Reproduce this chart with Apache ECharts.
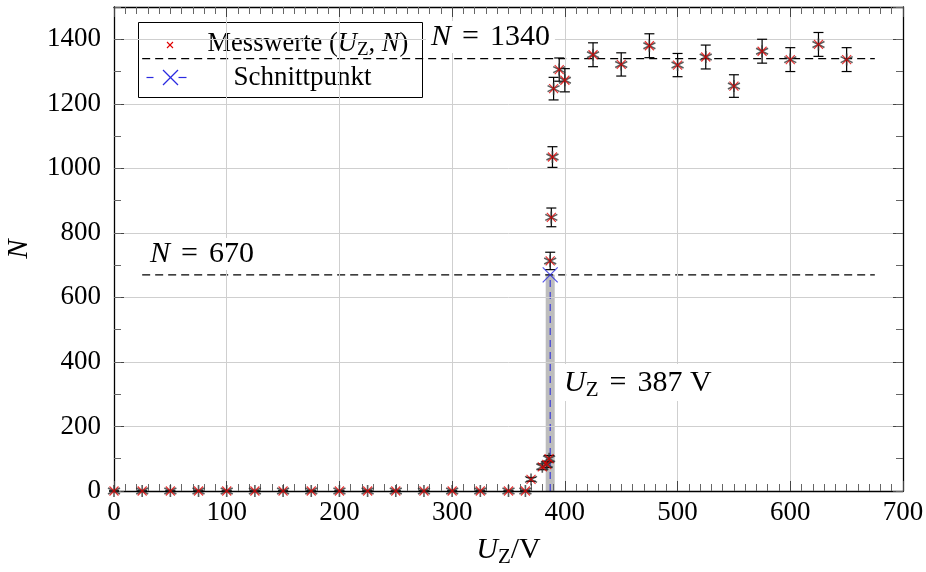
<!DOCTYPE html>
<html>
<head>
<meta charset="utf-8">
<script src="https://cdn.jsdelivr.net/npm/echarts@6/dist/echarts.min.js"></script>
<style>
html,body{margin:0;padding:0;background:#fff;}
#c{width:926px;height:572px;}
</style>
</head>
<body>
<div id="c"></div>
<script>
// ---- data ----
const uValues = [0,25,50,75,100,125,150,175,200,225,250,275,300,325,350,365,370,380,384,386,387,388,389,390,395,400,425,450,475,500,525,550,575,600,625,650];
const nValues = [0,0,0,0,0,0,0,0,0,0,0,0,0,0,0,0,36,75,82,100,713,848,1035,1247,1306,1273,1352,1322,1380,1320,1345,1255,1363,1337,1384,1337];
const nErrors = [0,0,0,0,0,0,0,0,0,0,0,0,0,0,0,0,6,9,9,10,27,29,32,35,36,36,37,36,37,36,37,35,37,37,37,37];
const xTicks = [0,100,200,300,400,500,600,700];
const yTicks = [0,200,400,600,800,1000,1200,1400];
const halfLevel = 670;       // N = 670
const fullLevel = 1340;      // N = 1340
const levelLineX = [25, 675];
const crossU = 387;          // Schnittpunkt U_Z
const bandU = [383, 391];    // uncertainty band

const FF = 'Liberation Serif, DejaVu Serif, serif';
const chart = echarts.init(document.getElementById('c'), null, {renderer: 'canvas'});

const measured = uValues.map((u, i) => [u, nValues[i]]);
const errData = uValues.map((u, i) => [u, nValues[i], nErrors[i]]);

const xMin = xTicks[0], xMax = xTicks[xTicks.length - 1], xInt = xTicks[1] - xTicks[0];
const yInt = yTicks[1] - yTicks[0];
const plain = v => String(v);

function xAxisDef(pos, showLabels) {
  return {
    type: 'value', position: pos, min: xMin, max: xMax, interval: xInt,
    axisLine: {show: true, onZero: false, lineStyle: {color: '#000', width: 1.3}},
    axisTick: {show: true, inside: true, length: 10, lineStyle: {color: '#444', width: 1}},
    minorTick: {show: true, splitNumber: 10, length: 7, lineStyle: {color: '#666', width: 1}},
    splitLine: {show: showLabels, lineStyle: {color: '#cfcfcf', width: 1}},
    axisLabel: {show: showLabels, formatter: plain, color: '#000', fontFamily: FF, fontSize: 27, margin: 8},
    z: 5
  };
}
function yAxisDef(pos, interval, tickLen, showLabels, showLine) {
  return {
    type: 'value', position: pos, min: 0, max: 1500, interval: interval,
    axisLine: {show: showLine, onZero: false, lineStyle: {color: '#000', width: 1.3}},
    axisTick: {show: true, inside: true, length: tickLen, lineStyle: {color: tickLen > 8 ? '#444' : '#666', width: 1}},
    splitLine: {show: showLabels, lineStyle: {color: '#cfcfcf', width: 1}},
    axisLabel: {show: showLabels, formatter: plain, showMaxLabel: false, color: '#000', fontFamily: FF, fontSize: 27, margin: 13},
    z: 5
  };
}

const xA0 = xAxisDef('bottom', true);
xA0.name = '{i|U}{s|Z}{r|/V}';
xA0.nameLocation = 'middle';
xA0.nameGap = 42;
xA0.nameTextStyle = {rich: {
  i: {fontFamily: FF, fontStyle: 'italic', fontSize: 30, color: '#000'},
  s: {fontFamily: FF, fontSize: 21, color: '#000', padding: [14, 0, 0, 0]},
  r: {fontFamily: FF, fontSize: 30, color: '#000'}
}};
const xA1 = xAxisDef('top', false);

const yA0 = yAxisDef('left', yInt, 10, true, true);
yA0.name = 'N';
yA0.nameLocation = 'middle';
yA0.nameGap = 80;
yA0.nameTextStyle = {fontFamily: FF, fontStyle: 'italic', fontSize: 29, color: '#000'};
const yA1 = yAxisDef('left', yInt / 2, 7, false, false);
const yA2 = yAxisDef('right', yInt, 10, false, true);
const yA3 = yAxisDef('right', yInt / 2, 7, false, false);

const crossPath = 'path://M0,0L10,10M10,0L0,10';
const starPath = 'path://M5,0L5,10M0.67,2.5L9.33,7.5M0.67,7.5L9.33,2.5';

const mathRich = {
  i: {fontFamily: FF, fontStyle: 'italic', fontSize: 30, fill: '#000'},
  r: {fontFamily: FF, fontSize: 30, fill: '#000'},
  e: {fontFamily: FF, fontSize: 30, fill: '#000', padding: [0, 11, 0, 11]},
  s: {fontFamily: FF, fontSize: 21, fill: '#000', padding: [14, 0, 0, 0]}
};

const option = {
  animation: false,
  backgroundColor: '#fff',
  grid: {left: 114, right: 23, top: 7, bottom: 81, containLabel: false, outerBoundsMode: 'none'},
  xAxis: [xA0, xA1],
  yAxis: [yA0, yA1, yA2, yA3],
  series: [
    { // grey band
      type: 'custom', xAxisIndex: 0, yAxisIndex: 0, z: 2,
      data: [[bandU[0], bandU[1], 0, halfLevel]],
      encode: {x: [0, 1], y: [2, 3]},
      renderItem: function (params, api) {
        const p0 = api.coord([api.value(0), api.value(3)]);
        const p1 = api.coord([api.value(1), api.value(2)]);
        return {type: 'rect', shape: {x: p0[0], y: p0[1], width: p1[0] - p0[0], height: p1[1] - p0[1]},
          style: {fill: '#bdbdbd'}};
      }
    },
    { // N = 670 line
      type: 'line', xAxisIndex: 0, yAxisIndex: 0, z: 3, symbol: 'none', silent: true,
      data: [[levelLineX[0], halfLevel], [levelLineX[1], halfLevel]],
      lineStyle: {color: '#000', width: 1.2, type: [8, 5]}
    },
    { // N = 1340 line
      type: 'line', xAxisIndex: 0, yAxisIndex: 0, z: 3, symbol: 'none', silent: true,
      data: [[levelLineX[0], fullLevel], [levelLineX[1], fullLevel]],
      lineStyle: {color: '#000', width: 1.2, type: [8, 5]}
    },
    { // vertical blue dashed line
      type: 'line', xAxisIndex: 0, yAxisIndex: 0, z: 4, symbol: 'none', silent: true,
      data: [[crossU, 0], [crossU, halfLevel]],
      lineStyle: {color: '#3a3ad6', width: 1.2, type: [7, 5]}
    },
    { // error bars
      type: 'custom', xAxisIndex: 0, yAxisIndex: 0, z: 6,
      data: errData, encode: {x: 0, y: 1},
      renderItem: function (params, api) {
        const x = api.value(0), y = api.value(1), e = api.value(2);
        const t = api.coord([x, y + e]), b = api.coord([x, y - e]);
        const hw = 5;
        const st = {stroke: '#000', lineWidth: 1.2};
        return {type: 'group', children: [
          {type: 'line', shape: {x1: t[0], y1: t[1], x2: b[0], y2: b[1]}, style: st},
          {type: 'line', shape: {x1: t[0] - hw, y1: t[1], x2: t[0] + hw, y2: t[1]}, style: st},
          {type: 'line', shape: {x1: b[0] - hw, y1: b[1], x2: b[0] + hw, y2: b[1]}, style: st}
        ]};
      }
    },
    { // black asterisk marks
      type: 'scatter', xAxisIndex: 0, yAxisIndex: 0, z: 7, silent: true,
      data: measured, symbol: starPath, symbolSize: 12,
      itemStyle: {color: 'rgba(0,0,0,0)', borderColor: '#333', borderWidth: 1.6}
    },
    { // red crosses
      type: 'scatter', name: 'Messwerte', xAxisIndex: 0, yAxisIndex: 0, z: 8, silent: true,
      data: measured, symbol: crossPath, symbolSize: 9,
      itemStyle: {color: 'rgba(0,0,0,0)', borderColor: '#e00000', borderWidth: 1.2}
    },
    { // intersection point
      type: 'scatter', name: 'Schnittpunkt', xAxisIndex: 0, yAxisIndex: 0, z: 9, silent: true,
      data: [[crossU, halfLevel]], symbol: crossPath, symbolSize: 15,
      itemStyle: {color: 'rgba(0,0,0,0)', borderColor: '#2a2ae0', borderWidth: 1.2}
    }
  ],
  graphic: [
    // annotation texts
    {type: 'text', left: 426, top: 21, z: 50, style: {
      text: '{i|N}{e|=}{r|1340}', backgroundColor: '#fff', padding: [1, 5, 1, 5], rich: mathRich
    }},
    {type: 'text', left: 145, top: 238, z: 50, style: {
      text: '{i|N}{e|=}{r|670}', backgroundColor: '#fff', padding: [1, 5, 1, 5], rich: mathRich
    }},
    {type: 'text', left: 558, top: 364, z: 50, style: {
      text: '{i|U}{s|Z}{e|=}{r|387 V}', backgroundColor: '#fff', padding: [2, 6, 0, 6], rich: mathRich
    }},
    // legend
    {type: 'group', left: 138, top: 22, z: 60, children: [
      {type: 'rect', shape: {x: 0, y: 0, width: 284, height: 75}, style: {fill: '#fff', stroke: '#000', lineWidth: 1}},
      {type: 'line', shape: {x1: 28.5, y1: 19.5, x2: 34.5, y2: 25.5}, style: {stroke: '#e00000', lineWidth: 1.1}},
      {type: 'line', shape: {x1: 34.5, y1: 19.5, x2: 28.5, y2: 25.5}, style: {stroke: '#e00000', lineWidth: 1.1}},
      {type: 'text', x: 69, y: 22, style: {
        text: '{r|Messwerte (}{i|U}{s|Z}{r|, }{i|N}{r|)}', verticalAlign: 'middle',
        rich: {r: {fontFamily: FF, fontSize: 26.5, fill: '#000'},
               i: {fontFamily: FF, fontStyle: 'italic', fontSize: 26.5, fill: '#000'},
               s: {fontFamily: FF, fontSize: 19, fill: '#000', padding: [12, 0, 0, 0]}}
      }},
      {type: 'line', shape: {x1: 8, y1: 55, x2: 15, y2: 55}, style: {stroke: '#2a2ae0', lineWidth: 1.2}},
      {type: 'line', shape: {x1: 40, y1: 55, x2: 48, y2: 55}, style: {stroke: '#2a2ae0', lineWidth: 1.2}},
      {type: 'line', shape: {x1: 24.5, y1: 47.5, x2: 39.5, y2: 62.5}, style: {stroke: '#2a2ae0', lineWidth: 1.2}},
      {type: 'line', shape: {x1: 39.5, y1: 47.5, x2: 24.5, y2: 62.5}, style: {stroke: '#2a2ae0', lineWidth: 1.2}},
      {type: 'text', x: 95, y: 55, style: {
        text: 'Schnittpunkt', fontFamily: FF, fontSize: 27, fill: '#000', verticalAlign: 'middle'
      }}
    ]}
  ]
};
chart.setOption(option);
</script>
</body>
</html>
